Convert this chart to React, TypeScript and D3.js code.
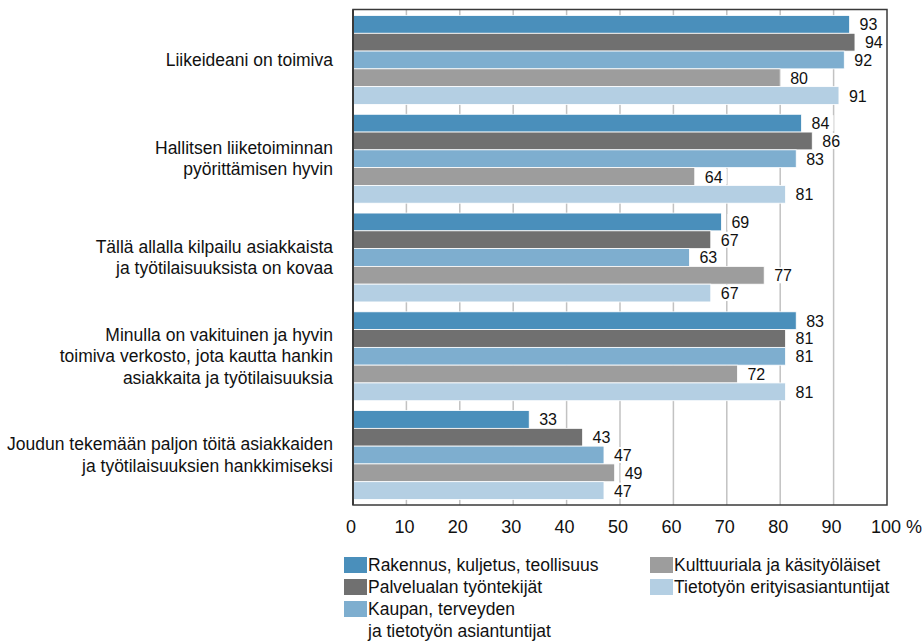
import React from "react";
import * as d3 from "d3";

const categories: string[][] = [
  ["Liikeideani on toimiva"],
  ["Hallitsen liiketoiminnan", "pyörittämisen hyvin"],
  ["Tällä allalla kilpailu asiakkaista", "ja työtilaisuuksista on kovaa"],
  ["Minulla on vakituinen ja hyvin", "toimiva verkosto, jota kautta hankin", "asiakkaita ja työtilaisuuksia"],
  ["Joudun tekemään paljon töitä asiakkaiden", "ja työtilaisuuksien hankkimiseksi"],
];

const seriesNames = [
  "Rakennus, kuljetus, teollisuus",
  "Palvelualan työntekijät",
  "Kaupan, terveyden\nja tietotyön asiantuntijat",
  "Kulttuuriala ja käsityöläiset",
  "Tietotyön erityisasiantuntijat",
];
const seriesColors = ["#4a8fbb", "#707070", "#7eaecf", "#9d9d9d", "#b4cfe3"];

const rakennus = [93, 84, 69, 83, 33];
const palvelu = [94, 86, 67, 81, 43];
const kaupan = [92, 83, 63, 81, 47];
const kulttuuri = [80, 64, 77, 72, 49];
const tietotyo = [91, 81, 67, 81, 47];
const seriesValues = [rakennus, palvelu, kaupan, kulttuuri, tietotyo];

const xTicks = [0, 10, 20, 30, 40, 50, 60, 70, 80, 90, 100];

const FONT = "'Liberation Sans', Arial, sans-serif";

export default function App() {
  const W = 922, H = 643;
  const left = 353, right = 887, top = 9.5, bottom = 505;
  const x = d3.scaleLinear().domain([0, 100]).range([left, right]);
  const y0 = d3
    .scaleBand<number>()
    .domain(d3.range(categories.length))
    .range([9, 506])
    .paddingInner(0.1)
    .paddingOuter(0.066);
  const y1 = d3
    .scaleBand<number>()
    .domain(d3.range(seriesNames.length))
    .range([0, y0.bandwidth()]);

  const legendItems = [
    { i: 0, x: 344, row: 0 },
    { i: 1, x: 344, row: 1 },
    { i: 2, x: 344, row: 2 },
    { i: 3, x: 650, row: 0 },
    { i: 4, x: 650, row: 1 },
  ];

  return (
    <svg width={W} height={H} style={{ position: "absolute", left: 0, top: 0, background: "#fff" }} fontFamily={FONT}>
      {/* gridlines */}
      {xTicks.slice(1, -1).map((t) => (
        <line key={t} x1={x(t)} x2={x(t)} y1={top} y2={bottom} stroke="#c2c2c2" strokeWidth={1.5} />
      ))}
      {/* bars */}
      {categories.map((_, ci) => (
        <g key={ci} transform={`translate(0,${y0(ci)})`}>
          {seriesValues.map((vals, si) => (
            <rect
              key={si}
              x={x(0)}
              y={y1(si)}
              width={x(vals[ci]) - x(0)}
              height={y1.bandwidth()}
              fill={seriesColors[si]}
              stroke="#ffffff"
              strokeWidth={0.8}
            />
          ))}
          {seriesValues.map((vals, si) => {
            const tx = x(vals[ci]) + 10;
            const cy = (y1(si) as number) + y1.bandwidth() / 2;
            return (
              <g key={"l" + si}>
                <rect x={tx - 4} y={cy - 8} width={26} height={16} fill="#fff" />
                <text x={tx} y={cy + 6} fontSize={16} fill="#111">
                  {vals[ci]}
                </text>
              </g>
            );
          })}
        </g>
      ))}
      {/* frame */}
      <rect x={left} y={top} width={right - left} height={bottom - top} fill="none" stroke="#3a3a3a" strokeWidth={1.5} />
      <line x1={left} x2={left} y1={top} y2={bottom} stroke="#3a3a3a" strokeWidth={2} />
      {/* x tick labels */}
      {xTicks.map((t) =>
        t === 100 ? (
          <text key={t} x={x(t) - 16} y={533} fontSize={18} fill="#111">
            100 %
          </text>
        ) : (
          <text key={t} x={x(t) - 2} y={533} fontSize={18} textAnchor="middle" fill="#111">
            {t}
          </text>
        )
      )}
      {/* category labels */}
      {categories.map((lines, ci) => {
        const cy = (y0(ci) as number) + y0.bandwidth() / 2;
        const lh = 21.5;
        const start = cy - ((lines.length - 1) * lh) / 2;
        return (
          <text key={ci} fontSize={17.5} textAnchor="end" fill="#111">
            {lines.map((ln, li) => (
              <tspan key={li} x={333} y={start + li * lh + 6}>
                {ln}
              </tspan>
            ))}
          </text>
        );
      })}
      {/* legend */}
      {legendItems.map((it) => {
        const yy = 557 + it.row * 22;
        const lines = seriesNames[it.i].split("\n");
        return (
          <g key={it.i}>
            <rect x={it.x} y={yy} width={23} height={16} fill={seriesColors[it.i]} />
            <text fontSize={17.5} fill="#111">
              {lines.map((ln, li) => (
                <tspan key={li} x={it.x + 24} y={yy + 14 + li * 22}>
                  {ln}
                </tspan>
              ))}
            </text>
          </g>
        );
      })}
    </svg>
  );
}
